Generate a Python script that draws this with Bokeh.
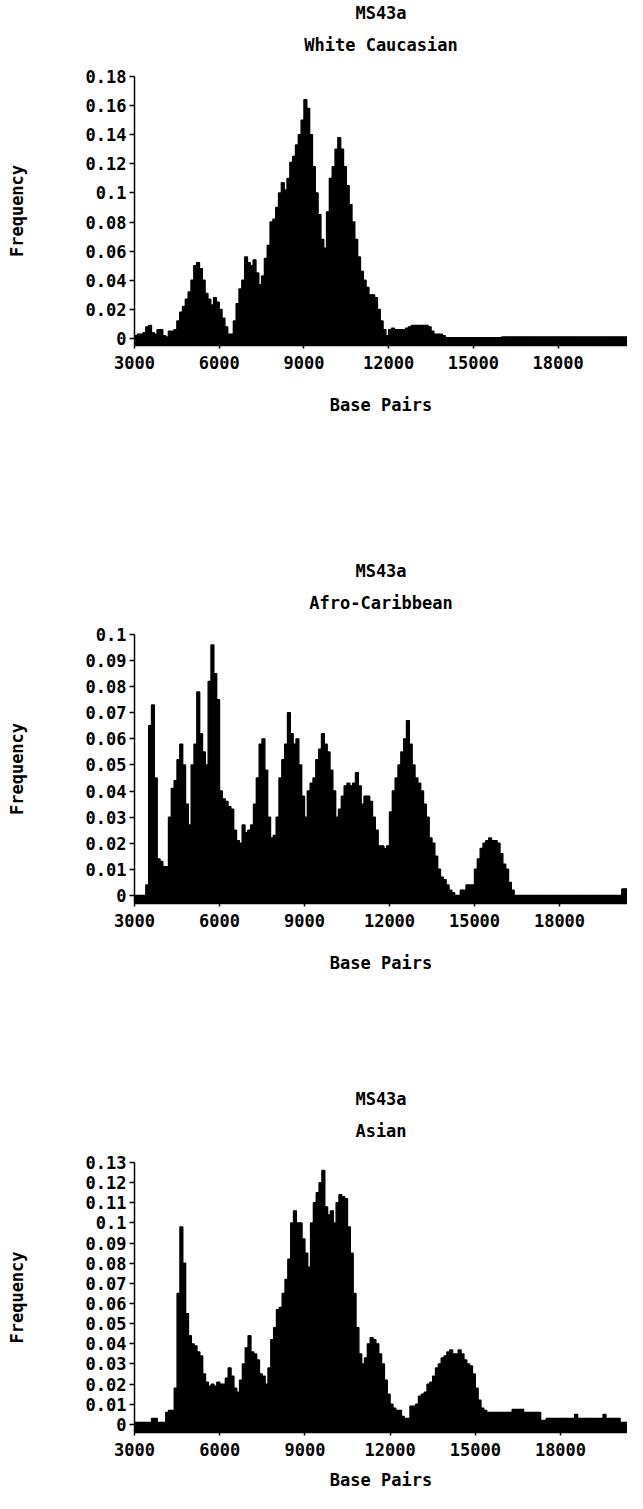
from bokeh.plotting import figure
from bokeh.models import FixedTicker, Title, Range1d
from bokeh.layouts import column
from bokeh.embed import file_html
from bokeh.resources import INLINE

# ---------------- data ----------------
marker = "MS43a"
populations = ["White Caucasian", "Afro-Caribbean", "Asian"]
bin_start = 3000
bin_width = 100  # base pairs per histogram bin

# one row per 1000 bp (3000-3900, 4000-4900, ...)
caucasian = [
    0.002, 0.003, 0.003, 0.004, 0.008, 0.009, 0.004, 0.003, 0.006, 0.006,
    0.002, 0.001, 0.005, 0.005, 0.006, 0.012, 0.018, 0.022, 0.027, 0.032,
    0.040, 0.050, 0.052, 0.048, 0.040, 0.031, 0.027, 0.023, 0.028, 0.025,
    0.020, 0.014, 0.008, 0.003, 0.003, 0.012, 0.024, 0.034, 0.040, 0.056,
    0.052, 0.050, 0.054, 0.045, 0.037, 0.043, 0.055, 0.064, 0.080, 0.082,
    0.090, 0.100, 0.107, 0.102, 0.110, 0.121, 0.125, 0.133, 0.140, 0.150,
    0.164, 0.158, 0.140, 0.118, 0.100, 0.085, 0.068, 0.062, 0.087, 0.110,
    0.118, 0.130, 0.138, 0.130, 0.118, 0.105, 0.092, 0.080, 0.068, 0.056,
    0.046, 0.040, 0.035, 0.030, 0.030, 0.028, 0.020, 0.012, 0.006, 0.002,
    0.006, 0.007, 0.006, 0.006, 0.006, 0.006, 0.007, 0.008, 0.009, 0.009,
    0.009, 0.009, 0.009, 0.009, 0.008, 0.005, 0.003, 0.003, 0.003, 0.002,
    0.0005, 0.0005, 0.0005, 0.0005, 0.0005, 0.0005, 0.0005, 0.0005, 0.0005, 0.0005,
    0.0005, 0.0005, 0.0005, 0.0005, 0.0005, 0.0005, 0.0005, 0.0005, 0.0005, 0.0005,
    0.001, 0.001, 0.001, 0.001, 0.001, 0.001, 0.001, 0.001, 0.001, 0.001,
    0.001, 0.001, 0.001, 0.001, 0.001, 0.001, 0.001, 0.001, 0.001, 0.001,
    0.001, 0.001, 0.001, 0.001, 0.001, 0.001, 0.001, 0.001, 0.001, 0.001,
    0.001, 0.001, 0.001, 0.001, 0.001, 0.001, 0.001, 0.001, 0.001, 0.001,
    0.001, 0.001, 0.001, 0.001, 0.001, 0.001, 0.001, 0.001, 0.001, 0.001,
]

afro_caribbean = [
    0.000, 0.000, 0.000, 0.000, 0.004, 0.065, 0.073, 0.045, 0.014, 0.013,
    0.011, 0.011, 0.030, 0.041, 0.044, 0.052, 0.058, 0.050, 0.035, 0.027,
    0.050, 0.058, 0.078, 0.062, 0.055, 0.050, 0.082, 0.096, 0.085, 0.075,
    0.040, 0.037, 0.036, 0.034, 0.033, 0.025, 0.021, 0.020, 0.027, 0.024,
    0.025, 0.027, 0.035, 0.045, 0.058, 0.060, 0.048, 0.030, 0.022, 0.023,
    0.030, 0.045, 0.052, 0.058, 0.070, 0.062, 0.058, 0.060, 0.050, 0.038,
    0.030, 0.040, 0.043, 0.045, 0.052, 0.056, 0.062, 0.058, 0.055, 0.048,
    0.040, 0.030, 0.033, 0.038, 0.042, 0.043, 0.042, 0.043, 0.047, 0.042,
    0.035, 0.038, 0.038, 0.036, 0.030, 0.025, 0.019, 0.019, 0.018, 0.019,
    0.032, 0.040, 0.045, 0.050, 0.055, 0.060, 0.067, 0.058, 0.050, 0.045,
    0.043, 0.040, 0.035, 0.030, 0.022, 0.020, 0.015, 0.010, 0.007, 0.006,
    0.004, 0.002, 0.001, 0.000, 0.000, 0.002, 0.002, 0.004, 0.004, 0.004,
    0.010, 0.014, 0.018, 0.020, 0.021, 0.022, 0.021, 0.021, 0.020, 0.016,
    0.012, 0.010, 0.005, 0.002, 0.000, 0.000, 0.000, 0.000, 0.000, 0.000,
    0.000, 0.000, 0.000, 0.000, 0.000, 0.000, 0.000, 0.000, 0.000, 0.000,
    0.000, 0.000, 0.000, 0.000, 0.000, 0.000, 0.000, 0.000, 0.000, 0.000,
    0.000, 0.000, 0.000, 0.000, 0.000, 0.000, 0.000, 0.000, 0.000, 0.000,
    0.000, 0.000, 0.0025, 0.0025, 0.0025, 0.0025, 0.0025, 0.0025, 0.0025, 0.0025,
]

asian = [
    0.001, 0.001, 0.001, 0.001, 0.001, 0.001, 0.003, 0.003, 0.001, 0.001,
    0.001, 0.006, 0.007, 0.007, 0.018, 0.065, 0.098, 0.080, 0.055, 0.044,
    0.040, 0.039, 0.036, 0.034, 0.025, 0.021, 0.019, 0.020, 0.019, 0.021,
    0.020, 0.020, 0.023, 0.028, 0.024, 0.018, 0.016, 0.022, 0.030, 0.038,
    0.044, 0.036, 0.035, 0.032, 0.025, 0.024, 0.020, 0.028, 0.042, 0.048,
    0.057, 0.058, 0.065, 0.072, 0.082, 0.100, 0.106, 0.100, 0.100, 0.092,
    0.085, 0.078, 0.100, 0.110, 0.115, 0.120, 0.126, 0.108, 0.104, 0.106,
    0.100, 0.110, 0.114, 0.113, 0.112, 0.098, 0.085, 0.065, 0.048, 0.035,
    0.030, 0.033, 0.040, 0.043, 0.042, 0.040, 0.035, 0.030, 0.022, 0.015,
    0.010, 0.008, 0.007, 0.007, 0.004, 0.003, 0.003, 0.009, 0.009, 0.010,
    0.014, 0.015, 0.016, 0.020, 0.021, 0.024, 0.028, 0.030, 0.033, 0.034,
    0.036, 0.037, 0.035, 0.035, 0.037, 0.035, 0.032, 0.030, 0.029, 0.025,
    0.018, 0.012, 0.008, 0.007, 0.006, 0.006, 0.006, 0.006, 0.006, 0.006,
    0.006, 0.006, 0.006, 0.0075, 0.0075, 0.0075, 0.0075, 0.006, 0.006, 0.006,
    0.006, 0.006, 0.006, 0.002, 0.002, 0.003, 0.003, 0.003, 0.003, 0.003,
    0.003, 0.003, 0.003, 0.003, 0.003, 0.005, 0.003, 0.003, 0.003, 0.003,
    0.003, 0.003, 0.003, 0.003, 0.003, 0.005, 0.003, 0.003, 0.003, 0.003,
    0.003, 0.001, 0.001, 0.001, 0.001, 0.001, 0.001, 0.001, 0.001, 0.001,
]

x_ticks = [3000, 6000, 9000, 12000, 15000, 18000]
x_labels = ["3000", "6000", "9000", "12000", "15000", "18000"]

y_ticks_cauc = [0, 0.02, 0.04, 0.06, 0.08, 0.1, 0.12, 0.14, 0.16, 0.18]
y_labels_cauc = ["0", "0.02", "0.04", "0.06", "0.08", "0.1", "0.12", "0.14", "0.16", "0.18"]
y_ticks_afro = [0, 0.01, 0.02, 0.03, 0.04, 0.05, 0.06, 0.07, 0.08, 0.09, 0.1]
y_labels_afro = ["0", "0.01", "0.02", "0.03", "0.04", "0.05", "0.06", "0.07", "0.08", "0.09", "0.1"]
y_ticks_asian = [0, 0.01, 0.02, 0.03, 0.04, 0.05, 0.06, 0.07, 0.08, 0.09, 0.1, 0.11, 0.12, 0.13]
y_labels_asian = ["0", "0.01", "0.02", "0.03", "0.04", "0.05", "0.06", "0.07", "0.08", "0.09",
                  "0.1", "0.11", "0.12", "0.13"]

x_axis_title = "Base Pairs"
y_axis_title = "Frequency"

FONT = "DejaVu Sans Mono"
FSIZE = "17px"


def make_panel(values, subtitle, y_ticks, y_labels, y_bottom, height,
               left, top, bottom, x_end, xlabel_standoff):
    lefts = [bin_start + bin_width * i for i in range(len(values))]
    rights = [l + bin_width for l in lefts]
    p = figure(width=627, height=height, output_backend="svg", toolbar_location=None,
               title=None,
               x_range=Range1d(bin_start, x_end), y_range=Range1d(y_bottom, y_ticks[-1]),
               min_border_left=left, min_border_right=0,
               min_border_top=top, min_border_bottom=bottom)
    p.quad(left=lefts, right=rights, bottom=y_bottom, top=values,
           fill_color="black", line_color="black", line_width=1.4)

    p.add_layout(Title(text=subtitle, align="center", text_font=FONT, text_font_size=FSIZE,
                       text_font_style="bold", text_color="black", standoff=43), "above")
    p.add_layout(Title(text=marker, align="center", text_font=FONT, text_font_size=FSIZE,
                       text_font_style="bold", text_color="black", standoff=-23), "above")

    p.xgrid.visible = False
    p.ygrid.visible = False
    p.outline_line_color = None
    p.background_fill_color = "white"
    p.border_fill_color = "white"

    xa = p.xaxis[0]
    xa.ticker = FixedTicker(ticks=x_ticks)
    xa.major_label_overrides = dict(zip(x_ticks, x_labels))
    xa.axis_label = x_axis_title
    xa.axis_line_color = "black"
    xa.axis_line_width = 1.5
    xa.major_tick_in = 0
    xa.major_tick_out = 3
    xa.major_tick_line_width = 1.5
    xa.minor_tick_line_color = None
    xa.major_label_standoff = 7
    xa.axis_label_standoff = xlabel_standoff

    ya = p.yaxis[0]
    ya.ticker = FixedTicker(ticks=y_ticks)
    ya.major_label_overrides = dict(zip(y_ticks, y_labels))
    ya.axis_label = y_axis_title
    ya.axis_line_color = "black"
    ya.axis_line_width = 1.5
    ya.major_tick_in = 0
    ya.major_tick_out = 5
    ya.major_tick_line_width = 1.5
    ya.minor_tick_line_color = None
    ya.major_label_standoff = 3
    ya.axis_label_standoff = 56

    for a in (xa, ya):
        a.major_label_text_font = FONT
        a.major_label_text_font_size = FSIZE
        a.major_label_text_font_style = "bold"
        a.major_label_text_color = "black"
        a.axis_label_text_font = FONT
        a.axis_label_text_font_size = FSIZE
        a.axis_label_text_font_style = "bold"
        a.axis_label_text_color = "black"
    return p


p1 = make_panel(caucasian, populations[0], y_ticks_cauc, y_labels_cauc, -0.0048,
                height=540, left=129, top=76, bottom=195, x_end=20455, xlabel_standoff=23)
p2 = make_panel(afro_caribbean, populations[1], y_ticks_afro, y_labels_afro, -0.0031,
                height=527, left=131, top=94, bottom=164, x_end=20400, xlabel_standoff=23)
p3 = make_panel(asian, populations[2], y_ticks_asian, y_labels_asian, -0.004,
                height=426, left=134, top=95, bottom=61, x_end=20360, xlabel_standoff=11)

layout = column(p1, p2, p3, spacing=0)
open("out.html", "w").write(file_html(layout, INLINE))
